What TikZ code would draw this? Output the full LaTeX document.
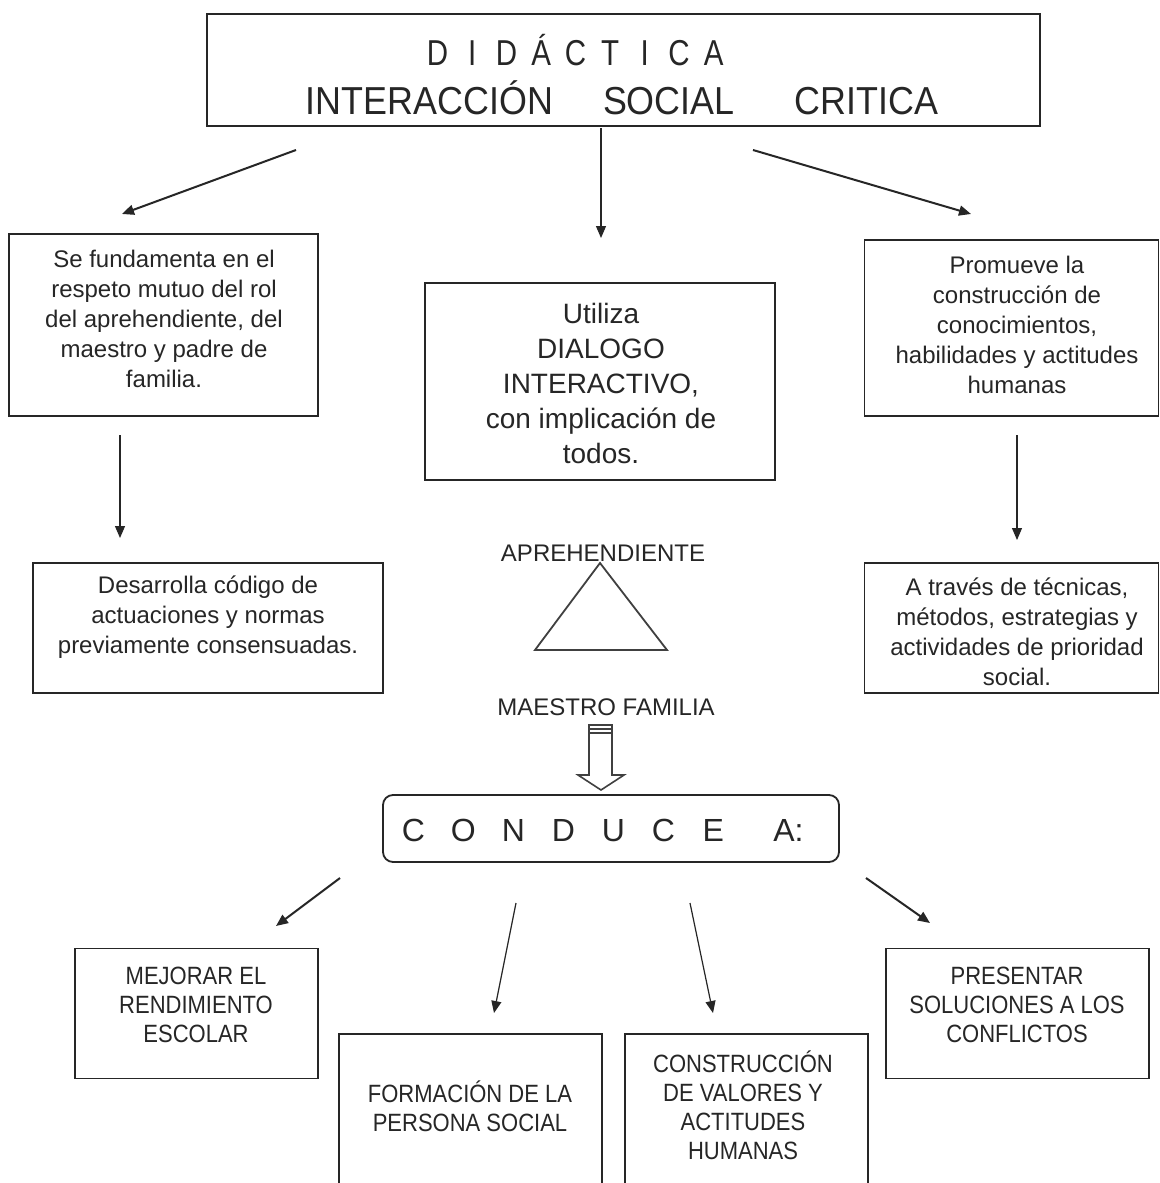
\documentclass[tikz,border=0pt]{standalone}
\usepackage{fontspec}
\setmainfont{Liberation Sans}
\newfontfamily\titlefont[FakeStretch=0.92]{Liberation Sans}
\newfontfamily\didfont[FakeStretch=0.82]{Liberation Sans}
\newfontfamily\narrowfont[FakeStretch=0.88]{Liberation Sans}
\usetikzlibrary{arrows.meta}
\newcommand{\tlbx}[1]{\makebox[17.25pt]{#1}}
\newcommand{\clbx}[1]{\makebox[25pt]{#1}}
\tikzset{
  x=0.5pt, y=-0.5pt,
  box/.style={draw=black!85, line width=0.9pt, fill=white, inner sep=0pt},
  txt/.style={align=center, inner sep=0pt, text=black!85, font=\fontsize{12}{15}\selectfont},
  bigtxt/.style={align=center, inner sep=0pt, text=black!85, font=\fontsize{14}{17.5}\selectfont},
  captxt/.style={align=center, inner sep=0pt, text=black!85, font=\narrowfont\fontsize{12.5}{14.5}\selectfont},
  arr/.style={draw=black!85, line width=0.6pt, -{Triangle[width=5pt,length=6pt]}},
  thickarr/.style={draw=black!85, line width=1pt, -{Triangle[width=5pt,length=6pt]}},
}
\begin{document}
\begin{tikzpicture}
\useasboundingbox (0,0) rectangle (1160,1183);
\clip (0,0) rectangle (1160,1183);
\fill[white] (0,0) rectangle (1160,1183);

% title box
\node[box, minimum width=416.5pt, minimum height=56pt] (top) at (623.5,70) {};
\node[anchor=west, inner sep=0pt, text=black!85, font=\didfont\fontsize{18}{20}\selectfont] (t1) at (420,50)
  {\tlbx{D}\tlbx{I}\tlbx{D}\tlbx{Á}\tlbx{C}\tlbx{T}\tlbx{I}\tlbx{C}\tlbx{A}};
\node[inner sep=0pt, text=black!85, font=\titlefont\fontsize{19.5}{22}\selectfont] (t2) at (622,98)
  {INTERACCIÓN\hspace{25pt}SOCIAL\hspace{30pt}CRITICA};

% top arrows
\coordinate (a1s) at (296,150); \coordinate (a1e) at (122,214);
\coordinate (a2s) at (601,128); \coordinate (a2e) at (601,238);
\coordinate (a3s) at (753,150); \coordinate (a3e) at (971,214);
\draw[thickarr] (a1s) -- (a1e);
\draw[arr] (a2s) -- (a2e);
\draw[thickarr] (a3s) -- (a3e);

% left column
\node[box, minimum width=154.5pt, minimum height=91pt] (lb1) at (163.5,325) {};
\node[txt] (lb1t) at (164,319) {Se fundamenta en el\\respeto mutuo del rol\\del aprehendiente, del\\maestro y padre de\\familia.};
\coordinate (l2s) at (120,435); \coordinate (l2e) at (120,538);
\draw[arr] (l2s) -- (l2e);
\node[box, minimum width=175pt, minimum height=65pt] (lb2) at (208,628) {};
\node[txt] (lb2t) at (208,617) {Desarrolla código de\\actuaciones y normas\\previamente consensuadas.};

% center column
\node[box, minimum width=175pt, minimum height=98.5pt] (cb) at (600,381.5) {};
\node[bigtxt] (cbt) at (601,383) {Utiliza\\DIALOGO\\INTERACTIVO,\\con implicación de\\todos.};

% right column
\node[box, minimum width=147pt, minimum height=88pt] (rb1) at (1011.5,328) {};
\node[txt] (rb1t) at (1017,325) {Promueve la\\construcción de\\conocimientos,\\habilidades y actitudes\\humanas};
\coordinate (r2s) at (1017,435); \coordinate (r2e) at (1017,540);
\draw[arr] (r2s) -- (r2e);
\node[box, minimum width=147pt, minimum height=65pt] (rb2) at (1011.5,628) {};
\node[txt] (rb2t) at (1017,632) {A través de técnicas,\\métodos, estrategias y\\actividades de prioridad\\social.};

% triangle
\node[inner sep=0pt, text=black!85, font=\fontsize{12}{14}\selectfont] (apr) at (603,553) {APREHENDIENTE};
\draw[draw=black!75, line width=0.9pt] (600,563) -- (535,650) -- (667,650) -- cycle;
\node[inner sep=0pt, text=black!85, font=\fontsize{12}{14}\selectfont] (mf) at (606,707) {MAESTRO FAMILIA};

% hollow arrow
\draw[draw=black!75, line width=0.8pt, fill=white]
  (589,725) -- (612,725) -- (612,775) -- (624,775) -- (601,790) -- (578,775) -- (589,775) -- cycle;
\draw[draw=black!75, line width=0.8pt] (589,729) -- (612,729);
\draw[draw=black!75, line width=0.8pt] (589,733) -- (612,733);

% conduce
\node[box, rounded corners=5pt, minimum width=228pt, minimum height=33.5pt] (cond) at (611,828.5) {};
\node[anchor=west, inner sep=0pt, text=black!85, font=\fontsize{16}{18}\selectfont] (condt) at (388,830)
  {\clbx{C}\clbx{O}\clbx{N}\clbx{D}\clbx{U}\clbx{C}\clbx{E}\hspace{17.5pt}A:};

% bottom arrows
\coordinate (b1s) at (340,878); \coordinate (b1e) at (276,926);
\coordinate (b2s) at (516,903); \coordinate (b2e) at (494,1013);
\coordinate (b3s) at (690,903); \coordinate (b3e) at (713,1013);
\coordinate (b4s) at (866,878); \coordinate (b4e) at (930,923);
\draw[thickarr] (b1s) -- (b1e);
\draw[arr] (b2s) -- (b2e);
\draw[arr] (b3s) -- (b3e);
\draw[thickarr] (b4s) -- (b4e);

% bottom boxes
\node[box, minimum width=121.5pt, minimum height=65pt] (bb1) at (196.5,1013.5) {};
\node[captxt] (bb1t) at (196,1005) {MEJORAR EL\\RENDIMIENTO\\ESCOLAR};
\node[box, minimum width=131.5pt, minimum height=93pt] (bb2) at (470.5,1127) {};
\node[captxt] (bb2t) at (470,1106) {FORMACIÓN DE LA\\PERSONA SOCIAL};
\node[box, minimum width=121.5pt, minimum height=93pt] (bb3) at (746.5,1127) {};
\node[captxt] (bb3t) at (743,1105) {CONSTRUCCIÓN\\DE VALORES Y\\ACTITUDES\\HUMANAS};
\node[box, minimum width=131.5pt, minimum height=65pt] (bb4) at (1017.5,1013.5) {};
\node[captxt] (bb4t) at (1017,1005) {PRESENTAR\\SOLUCIONES A LOS\\CONFLICTOS};
\end{tikzpicture}
\end{document}
